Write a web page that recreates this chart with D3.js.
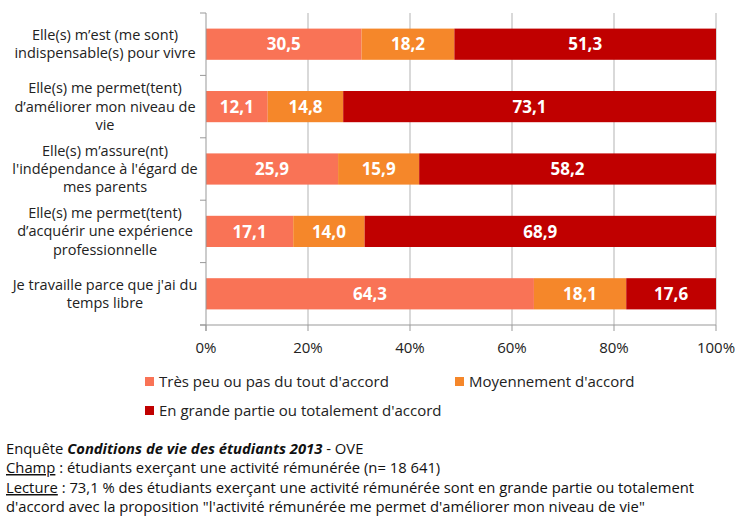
<!DOCTYPE html>
<html>
<head>
<meta charset="utf-8">
<script src="https://cdn.jsdelivr.net/npm/d3@7"></script>
<style>
  body { margin: 0; background: #fff; }
  svg { font-family: "Liberation Sans Narrow", "Open Sans", sans-serif; }
</style>
</head>
<body>
<div id="chart"></div>
<script>
const categories = [
    "Elle(s) m\u2019est (me sont)\nindispensable(s) pour vivre",
    "Elle(s) me permet(tent)\nd\u2019améliorer mon  niveau de\nvie",
    "Elle(s) m\u2019assure(nt)\nl'indépendance à l'égard de\nmes parents",
    "Elle(s) me permet(tent)\nd\u2019acquérir une expérience\nprofessionnelle",
    "Je travaille parce que j'ai du\ntemps libre"
];
const seriesNames = [
    "Très peu ou pas du tout d'accord",
    "Moyennement d'accord",
    "En grande partie ou totalement d'accord"
];
const lowValues = [30.5, 12.1, 25.9, 17.1, 64.3];
const midValues = [18.2, 14.8, 15.9, 14.0, 18.1];
const highValues = [51.3, 73.1, 58.2, 68.9, 17.6];
const xTicks = [0, 20, 40, 60, 80, 100];
const colors = ["#F97356", "#F5872A", "#C00000"];

const width = 735, height = 517;
const margin = {top: 13, right: 19, bottom: 192, left: 206};

const svg = d3.select("#chart").append("svg")
    .attr("width", width)
    .attr("height", height);

const x = d3.scaleLinear().domain([0, 100]).range([margin.left, width - margin.right]);
const y = d3.scaleBand().domain(categories).range([margin.top, height - margin.bottom]).paddingInner(0.5).paddingOuter(0.25);

// gridlines
svg.append("g")
    .selectAll("line")
    .data(xTicks.slice(1))
    .enter().append("line")
    .attr("x1", d => x(d)).attr("x2", d => x(d))
    .attr("y1", margin.top).attr("y2", height - margin.bottom)
    .style("stroke", "#b3b3b3");

// stacked bars
const rows = categories.map((c, i) => ({cat: c, vals: [lowValues[i], midValues[i], highValues[i]]}));
const stack = d3.stack().keys([0, 1, 2]).value((d, k) => d.vals[k]);
const layers = stack(rows);

layers.forEach((layer, k) => {
    const g = svg.append("g");
    g.selectAll("rect")
        .data(layer)
        .enter().append("rect")
        .attr("x", d => x(d[0]))
        .attr("width", d => x(d[1]) - x(d[0]))
        .attr("y", d => y(d.data.cat))
        .attr("height", y.bandwidth())
        .style("fill", colors[k]);
    g.selectAll("text")
        .data(layer)
        .enter().append("text")
        .attr("x", d => (x(d[0]) + x(d[1])) / 2)
        .attr("y", d => y(d.data.cat) + y.bandwidth() / 2)
        .attr("dy", "0.36em")
        .attr("text-anchor", "middle")
        .style("fill", "#fff")
        .style("font-weight", "bold")
        .style("font-size", "17px")
        .text(d => d.data.vals[k].toFixed(1).replace(".", ","));
});

// left axis line and ticks
const axisColor = "#999";
const yBottom = height - margin.bottom;
svg.append("line")
    .attr("x1", margin.left).attr("x2", margin.left)
    .attr("y1", margin.top).attr("y2", yBottom + 6)
    .style("stroke", axisColor);
const bandEdges = categories.map(c => y(c) - y.step() * y.paddingInner() / 2).concat([yBottom]);
svg.append("g").selectAll("line")
    .data(bandEdges)
    .enter().append("line")
    .attr("x1", margin.left - 6).attr("x2", margin.left)
    .attr("y1", d => d).attr("y2", d => d)
    .style("stroke", axisColor);

// bottom axis
svg.append("line")
    .attr("x1", margin.left - 6).attr("x2", x(100))
    .attr("y1", yBottom).attr("y2", yBottom)
    .style("stroke", axisColor);
svg.append("g").selectAll("line")
    .data(xTicks)
    .enter().append("line")
    .attr("x1", d => x(d)).attr("x2", d => x(d))
    .attr("y1", yBottom).attr("y2", yBottom + 6)
    .style("stroke", axisColor);
svg.append("g").selectAll("text")
    .data(xTicks)
    .enter().append("text")
    .attr("x", d => x(d))
    .attr("y", yBottom + 28)
    .attr("text-anchor", "middle")
    .style("font-size", "15px")
    .style("fill", "#222")
    .text(d => d + "%");

// category labels
categories.forEach(c => {
    const lines = c.split("\n");
    const cy = y(c) + y.bandwidth() / 2;
    const lh = 18.3;
    const t = svg.append("text")
        .attr("text-anchor", "middle")
        .style("font-size", "14.5px")
        .style("fill", "#222");
    lines.forEach((l, i) => {
        t.append("tspan")
            .attr("x", 105)
            .attr("y", cy + (i - (lines.length - 1) / 2) * lh)
            .attr("dy", "0.35em")
            .text(l);
    });
});

// legend
const legendPos = [[145, 382], [455, 382], [145, 411]];
seriesNames.forEach((s, k) => {
    const g = svg.append("g").attr("transform", `translate(${legendPos[k][0]},${legendPos[k][1]})`);
    g.append("rect").attr("x", 0).attr("y", -5).attr("width", 9).attr("height", 9).style("fill", colors[k]);
    g.append("text").attr("x", 14).attr("y", 0).attr("dy", "0.35em")
        .style("font-size", "15px").style("fill", "#222").text(s);
});

// footer
const foot = svg.append("g").style("font-size", "14.8px").style("fill", "#111");
const f1 = foot.append("text").attr("x", 6).attr("y", 454);
f1.append("tspan").text("Enquête ");
f1.append("tspan").style("font-weight", "bold").style("font-style", "italic").text("Conditions de vie des étudiants 2013");
f1.append("tspan").text(" - OVE");
const f2 = foot.append("text").attr("x", 6).attr("y", 473);
f2.append("tspan").style("text-decoration", "underline").text("Champ");
f2.append("tspan").text(" : étudiants exerçant une activité rémunérée (n= 18 641)");
const f3 = foot.append("text").attr("x", 6).attr("y", 493);
f3.append("tspan").style("text-decoration", "underline").text("Lecture");
f3.append("tspan").text(" : 73,1 % des étudiants exerçant une activité rémunérée sont en grande partie ou totalement");
foot.append("text").attr("x", 6).attr("y", 512)
    .text("d'accord avec la proposition \"l'activité rémunérée me permet d'améliorer mon niveau de vie\"");
</script>
</body>
</html>
